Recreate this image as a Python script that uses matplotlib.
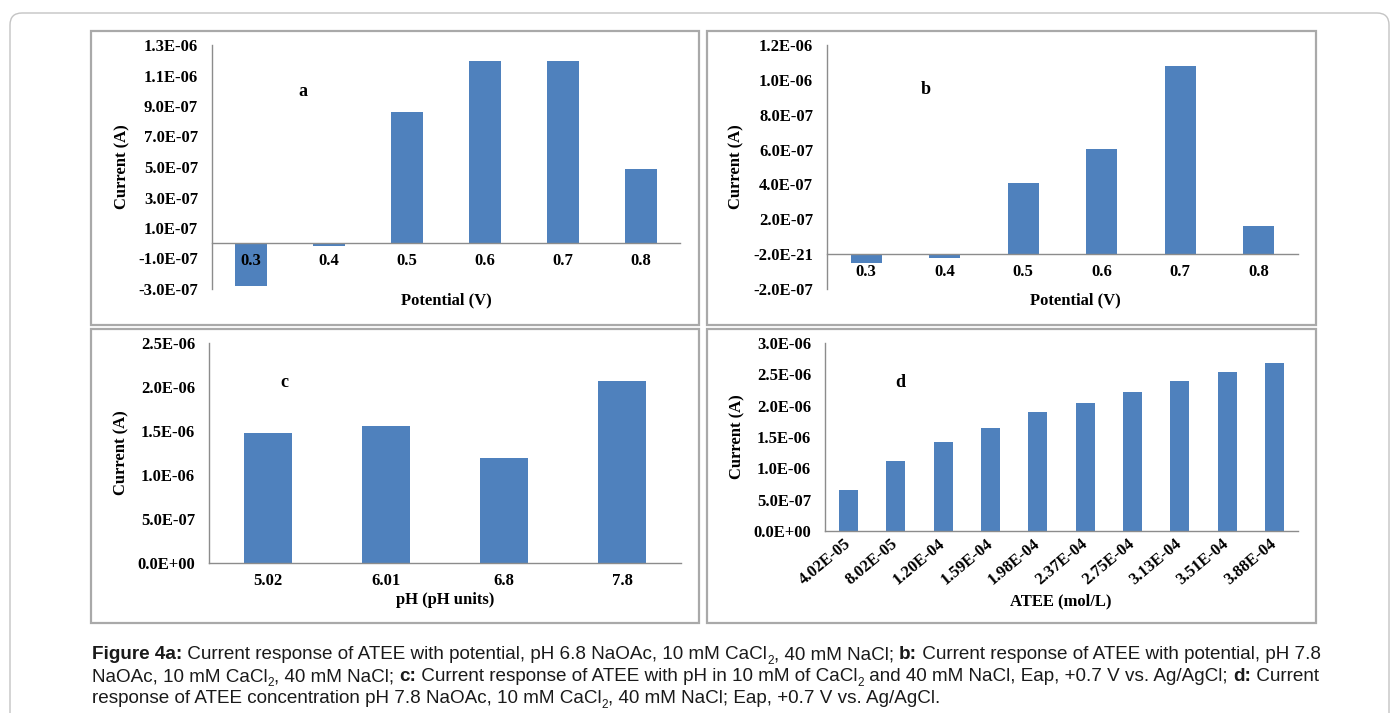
import matplotlib
matplotlib.use('Agg')
import matplotlib.pyplot as plt
from matplotlib.patches import Rectangle, FancyBboxPatch
from matplotlib.transforms import IdentityTransform

W, H = 1397, 713
BLUE = '#4F81BD'
AX_GRAY = '#8c8c8c'
FONT = 'Liberation Serif'
FS = 12

# panel a / b: current vs potential
potential = ['0.3', '0.4', '0.5', '0.6', '0.7', '0.8']
current_a = [-2.78e-7, -1.7e-8, 8.63e-7, 1.196e-6, 1.196e-6, 4.89e-7]
current_b = [-5.0e-8, -2.1e-8, 4.06e-7, 6.06e-7, 1.08e-6, 1.6e-7]

# panel c: current vs pH
ph = ['5.02', '6.01', '6.8', '7.8']
current_c = [1.474e-6, 1.558e-6, 1.197e-6, 2.07e-6]

# panel d: current vs ATEE concentration
atee = ['4.02E-05', '8.02E-05', '1.20E-04', '1.59E-04', '1.98E-04',
        '2.37E-04', '2.75E-04', '3.13E-04', '3.51E-04', '3.88E-04']
current_d = [6.62e-7, 1.12e-6, 1.415e-6, 1.644e-6, 1.906e-6,
             2.04e-6, 2.22e-6, 2.40e-6, 2.53e-6, 2.68e-6]

yticks_a = [-3e-7, -1e-7, 1e-7, 3e-7, 5e-7, 7e-7, 9e-7, 1.1e-6, 1.3e-6]
ylabels_a = ['-3.0E-07', '-1.0E-07', '1.0E-07', '3.0E-07', '5.0E-07',
             '7.0E-07', '9.0E-07', '1.1E-06', '1.3E-06']
yticks_b = [-2e-7, 0, 2e-7, 4e-7, 6e-7, 8e-7, 1e-6, 1.2e-6]
ylabels_b = ['-2.0E-07', '-2.0E-21', '2.0E-07', '4.0E-07', '6.0E-07',
             '8.0E-07', '1.0E-06', '1.2E-06']
yticks_c = [0, 5e-7, 1e-6, 1.5e-6, 2e-6, 2.5e-6]
ylabels_c = ['0.0E+00', '5.0E-07', '1.0E-06', '1.5E-06', '2.0E-06', '2.5E-06']
yticks_d = [0, 5e-7, 1e-6, 1.5e-6, 2e-6, 2.5e-6, 3e-6]
ylabels_d = ['0.0E+00', '5.0E-07', '1.0E-06', '1.5E-06', '2.0E-06',
             '2.5E-06', '3.0E-06']

fig = plt.figure(figsize=(W / 100, H / 100), dpi=100)


def fx(x):
    return x / W


def fy(y):
    return 1 - y / H


def add_axes_px(l, t, r, b):
    return fig.add_axes([fx(l), fy(b), (r - l) / W, (b - t) / H])


def bar_panel(box, cats, vals, yticks, ylabels, ylim, letter, letter_xy,
              xlabel, xlabel_xy, ylabel_x, rot=0):
    ax = add_axes_px(*box)
    ax.patch.set_alpha(0)
    ax.bar(range(len(cats)), vals, width=0.4, color=BLUE, zorder=1)
    ax.set_xlim(-0.5, len(cats) - 0.5)
    ax.set_ylim(*ylim)
    for s in ['top', 'right']:
        ax.spines[s].set_visible(False)
    for s in ['left', 'bottom']:
        ax.spines[s].set_color(AX_GRAY)
        ax.spines[s].set_linewidth(1)
    ax.spines['bottom'].set_position(('data', 0))
    ax.spines['bottom'].set_zorder(3)
    ax.set_yticks(yticks)
    ax.set_yticklabels(ylabels, fontsize=FS, fontweight='bold', family=FONT)
    ax.set_xticks(range(len(cats)))
    if rot:
        ax.set_xticklabels(cats, fontsize=FS, fontweight='bold', family=FONT,
                           rotation=rot, ha='right', va='center',
                           rotation_mode='anchor')
        ax.tick_params(axis='x', pad=8)
    else:
        ax.set_xticklabels(cats, fontsize=FS, fontweight='bold', family=FONT)
        ax.tick_params(axis='x', pad=7)
    ax.tick_params(axis='y', pad=10)
    ax.tick_params(length=0)
    for lbl in ax.get_xticklabels():
        lbl.set_zorder(5)
    fig.text(fx(letter_xy[0]), fy(letter_xy[1]), letter, fontsize=FS + 1,
             fontweight='bold', family=FONT, ha='center', va='center')
    fig.text(fx(xlabel_xy[0]), fy(xlabel_xy[1]), xlabel, fontsize=FS,
             fontweight='bold', family=FONT, ha='center', va='center')
    fig.text(fx(ylabel_x), fy((box[1] + box[3]) / 2), 'Current (A)',
             fontsize=FS, fontweight='bold', family=FONT, rotation=90,
             ha='center', va='center')
    return ax


# panel frames
for l, t, r, b in [(91, 31, 699, 325), (707, 31, 1316, 325),
                   (91, 329, 699, 623), (707, 329, 1316, 623)]:
    fig.add_artist(Rectangle((fx(l), fy(b)), (r - l) / W, (b - t) / H,
                             transform=fig.transFigure, fill=False,
                             ec='#a9a9a9', lw=1.6))

# outer rounded border
fig.add_artist(FancyBboxPatch((10, -30), 1379, H - 13 + 30,
                              boxstyle='round,pad=0,rounding_size=12',
                              transform=IdentityTransform(), fill=False,
                              ec='#c4c4c4', lw=1))

bar_panel((212, 45, 680, 289), potential, current_a, yticks_a, ylabels_a,
          (-3e-7, 1.3e-6), 'a', (303, 92), 'Potential (V)', (446, 300), 122)
bar_panel((827, 45, 1298, 289), potential, current_b, yticks_b, ylabels_b,
          (-2e-7, 1.2e-6), 'b', (926, 90), 'Potential (V)', (1075, 300), 736)
bar_panel((209, 343, 681, 563), ph, current_c, yticks_c, ylabels_c,
          (0, 2.5e-6), 'c', (284, 382), 'pH (pH units)', (445, 600), 121)
bar_panel((825, 343, 1298, 531), atee, current_d, yticks_d, ylabels_d,
          (0, 3e-6), 'd', (900, 382), 'ATEE (mol/L)', (1061, 601), 737,
          rot=40)

# caption with bold markers and subscripts
caption_lines = [
    [('Figure 4a:', 'b'),
     (' Current response of ATEE with potential, pH 6.8 NaOAc, 10 mM CaCl', 'n'),
     ('2', 's'), (', 40 mM NaCl; ', 'n'), ('b:', 'b'),
     (' Current response of ATEE with potential, pH 7.8', 'n')],
    [('NaOAc, 10 mM CaCl', 'n'), ('2', 's'), (', 40 mM NaCl; ', 'n'),
     ('c:', 'b'), (' Current response of ATEE with pH in 10 mM of CaCl', 'n'),
     ('2', 's'), (' and 40 mM NaCl, Eap, +0.7 V vs. Ag/AgCl; ', 'n'),
     ('d:', 'b'), (' Current', 'n')],
    [('response of ATEE concentration pH 7.8 NaOAc, 10 mM CaCl', 'n'),
     ('2', 's'), (', 40 mM NaCl; Eap, +0.7 V vs. Ag/AgCl.', 'n')],
]

renderer = fig.canvas.get_renderer()
CAP_SIZE = 13.6


def text_width(s, **kw):
    t1 = fig.text(0, 0, s + '|', **kw)
    w1 = t1.get_window_extent(renderer).width
    t1.remove()
    t0 = fig.text(0, 0, '|', **kw)
    w0 = t0.get_window_extent(renderer).width
    t0.remove()
    return w1 - w0


for i, segs in enumerate(caption_lines):
    x = 92
    base = 659 + 22 * i
    for txt, kind in segs:
        kw = dict(family='Liberation Sans',
                  fontsize=CAP_SIZE * 0.62 if kind == 's' else CAP_SIZE,
                  fontweight='bold' if kind == 'b' else 'normal')
        yb = base + 5 if kind == 's' else base
        fig.text(fx(x), fy(yb), txt, va='baseline', ha='left',
                 color='#1a1a1a', **kw)
        x += text_width(txt, **kw)

fig.savefig('out.png', dpi=100)
